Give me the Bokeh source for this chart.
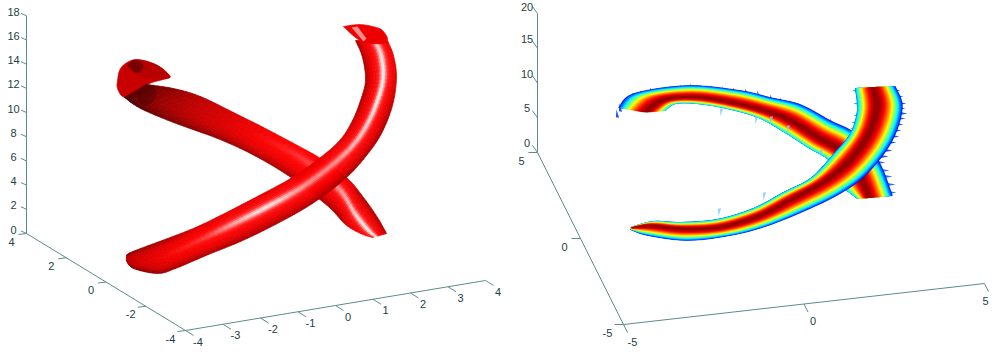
import math
from bokeh.plotting import figure
from bokeh.models import Range1d
from bokeh.core.properties import value
from bokeh.embed import file_html
from bokeh.resources import INLINE

# ---------- left panel axes ----------
L_Z_TICKS = [0, 2, 4, 6, 8, 10, 12, 14, 16, 18]
L_Y_TICKS = [4, 2, 0, -2, -4]
L_X_TICKS = [-4, -3, -2, -1, 0, 1, 2, 3, 4]
# ---------- right panel axes ----------
R_Z_TICKS = [0, 5, 10, 15, 20]
R_Y_TICKS = [5, 0, -5]
R_X_TICKS = [-5, 0, 5]

# ---------- red tubes: paired edges ----------
A_UP = [(126,256),(128,253),(140,248),(167,238),(195,227),(220,215),(253,198),(290,178),(320,157),(340,139),(352,120),(360,100),(365,80),(362,57),(355,40)]
A_LO = [(126,260),(133,268),(157,273),(175,268),(208,254),(240,241),(275,224),(312,203),(345,178),(366,155),(381,133),(392,105),(396,77),(393,55),(387,40)]
A_POS = [.5,.5,.5,.5,.45,.42,.42,.42,.42,.45,.48,.52,.58,.62,.62]
A_PEAK = [0,0,0,.05,.2,.55,.8,.55,.5,.65,.75,.85,.85,.8,.7]
A_DIM = [.22,.2,.12,.04,0,0,0,0,0,0,0,0,0,0,0]

B_UP = [(146,84),(173,88),(200,96),(233,112),(263,127),(297,145),(320,158),(347,178),(363,197),(377,217),(386,233)]
B_LO = [(124,97),(140,108),(173,122),(217,138),(250,153),(283,172),(308,190),(330,208),(345,224),(360,233),(372,237)]
B_POS = [.3,.35,.35,.35,.33,.3,.35,.42,.55,.68,.8]
B_PEAK = [0,0,0,0,.03,.15,.3,.55,.75,.85,.8]
B_DIM = [.6,.42,.25,.12,.03,0,0,0,0,0,0]

CAP_L_OUTER = [(117,80),(119,70),(125,63),(137,59),(157,65),(169,75),(166,78),(147,84),(142,95),(124,97),(117,88),(117,80)]
CAP_L_INNER = [(126,65),(132,60),(143,60),(157,65),(169,75),(166,78),(148,78),(135,73),(126,65)]
CAP_L_DEEP = [(127,65),(132,60),(140,61),(143,66),(139,72),(133,71),(127,65)]
CAP_L_NECK = [(136,92),(143,85),(152,85),(156,94),(150,103),(140,103),(136,92)]
CAP_R = [(343,26),(360,24),(376,27),(382,30),(387,38),(383,43),(365,42),(355,37),(343,26)]
CAP_R_INNER = [(351,27),(357,26),(366,38),(363,41)]

# ---------- rainbow bands ----------
RA_C = [(632,227),(650,225),(680,228),(717,227),(757,216),(790,199),(823,181),(847,162),(867,135),(876,107),(873,87)]
RA_U = [(630,227),(653,221),(680,222),(717,219),(753,208),(783,192),(810,178),(832,155),(850,133),(857,110),(855,88)]
RA_L = [(630,229),(647,235),(687,240),(730,235),(765,226),(803,211),(840,193),(868,172),(892,140),(902,107),(895,86)]

RB_C = [(645,112),(665,99),(697,97),(730,102),(763,110),(790,120),(817,137),(840,150),(857,170),(868,197)]
RB_U = [(618,107),(633,93),(687,85),(740,90),(770,97),(800,104),(830,120),(855,133),(878,160),(892,195)]
RB_L = [(665,110),(675,103),(697,103),(727,108),(758,117),(783,131),(808,147),(830,161),(842,185),(857,198)]

TEETH_R_X = [900,903,906,905,907,905,903,901,899,896,892,888]
TEETH_R_Y = [90,96,103,108,113,118,124,130,136,142,150,156]
TEETH_B_X = [885,889,892,895,896]
TEETH_B_Y = [162,170,176,184,192]
TEETH_L_X = [852,853,853,851,850]
TEETH_L_Y = [90,103,115,122,128]
TEETH_U_X = [616,619,623,627,632,640,650,660,670,680,690,700,711,722,733,745,757,770,780,790,798,806,814,822,830,838,846]
TEETH_U_Y = [109,103,99,96,92,90,87,87,85,84,83,84,85,86,87,88,90,94,97,100,102,107,110,116,118,125,128]
SPIKE_X = [720,755,770,787,820,763,718,800]
SPIKE_Y = [116,124,124,133,157,200,216,205]


def smooth(pts, n=6):
    out = []
    m = len(pts)
    for i in range(m - 1):
        p0 = pts[max(i - 1, 0)]
        p1, p2 = pts[i], pts[i + 1]
        p3 = pts[min(i + 2, m - 1)]
        for k in range(n):
            t = k / n
            out.append(tuple(
                0.5 * (2*p1[j] + (p2[j]-p0[j])*t + (2*p0[j]-5*p1[j]+4*p2[j]-p3[j])*t*t
                       + (3*p1[j]-p0[j]-3*p2[j]+p3[j])*t**3)
                for j in range(len(p1))))
    out.append(tuple(pts[-1]))
    return out


def hexc(r, g, b):
    c = lambda v: max(0, min(255, int(round(v))))
    return "#%02x%02x%02x" % (c(r), c(g), c(b))


def tube_colour(t, pos, peak, dim):
    d = abs(t - pos) / max(pos, 1 - pos)
    r = 255 * (1 - dim) * (1 - 0.36 * d ** 3)
    w = max(0.0, peak) * math.exp(-(d / 0.17) ** 2)
    w += 0.12 * max(0.0, peak) * math.exp(-(d / 0.4) ** 2)
    w = min(w, 1)
    return hexc(r + (255 - r) * w, 255 * w, 255 * w)


def draw_tube(p, up, lo, pos, peak, dim, bands=20):
    U = smooth(up); Lo = smooth(lo)
    P = smooth([(a, b, c) for a, b, c in zip(pos, peak, dim)])
    xs, ys, cs = [], [], []
    for i in range(len(U) - 1):
        for b in range(bands):
            t0, t1 = b / bands, (b + 1) / bands
            q = [(U[i], Lo[i], t0), (U[i], Lo[i], t1), (U[i+1], Lo[i+1], t1), (U[i+1], Lo[i+1], t0)]
            xs.append([u[0] + (l[0]-u[0])*t for u, l, t in q])
            ys.append([u[1] + (l[1]-u[1])*t for u, l, t in q])
            tm = (t0 + t1) / 2
            cs.append(tube_colour(tm, P[i][0], P[i][1], P[i][2]))
    p.patches(xs, ys, fill_color=cs, line_color=cs, line_width=0.7)


def jet(v):
    f = lambda x: max(0.0, min(1.0, x))
    r = f(min(4*v - 1.5, -4*v + 4.5))
    g = f(min(4*v - 0.5, -4*v + 3.5))
    b = f(min(4*v + 0.5, -4*v + 2.5))
    return hexc(255*r, 255*g, 255*b)


def draw_band(p, centre, up, lo, v_up, v_lo, levels=34):
    C = smooth(centre); U = smooth(up); Lo = smooth(lo)
    for k in range(levels):
        v = 0.14 + 0.84 * k / (levels - 1)
        fu = ((1 - v) / (1 - v_up)) ** 0.6 if v > v_up else 1.0
        fl = ((1 - v) / (1 - v_lo)) ** 0.6 if v > v_lo else 1.0
        top = [(c[0] + fu*(u[0]-c[0]), c[1] + fu*(u[1]-c[1])) for c, u in zip(C, U)]
        bot = [(c[0] + fl*(l[0]-c[0]), c[1] + fl*(l[1]-c[1])) for c, l in zip(C, Lo)]
        poly = top + bot[::-1]
        col = jet(v)
        p.patch([q[0] for q in poly], [q[1] for q in poly], fill_color=col, line_color=col, line_width=0.3)


def teeth(p, xs, ys, dx, dy, half, colour, alpha=1.0):
    X, Y = [], []
    n = abs(dx) + abs(dy)
    for x, y in zip(xs, ys):
        X.append([x, x + dx - half*dy/n, x + dx + half*dy/n])
        Y.append([y, y + dy - half*dx/n, y + dy + half*dx/n])
    p.patches(X, Y, fill_color=colour, fill_alpha=alpha, line_color=None)


def blob(p, pts, colour, alpha=1.0, edge=None):
    s = smooth(pts, 4)
    p.patch([q[0] for q in s], [q[1] for q in s], fill_color=colour, fill_alpha=alpha,
            line_color=edge, line_width=0.7)


p = figure(width=992, height=353, x_range=Range1d(0, 992), y_range=Range1d(353, 0),
           x_axis_type=None, y_axis_type=None, toolbar_location=None,
           output_backend="svg", min_border=0, outline_line_color=None,
           background_fill_color="white", border_fill_color="white")
p.grid.visible = False

AXC = "#5f8b8e"
TXT = "#223f44"


def lerp(a, b, t):
    return (a[0] + (b[0]-a[0])*t, a[1] + (b[1]-a[1])*t)


def axis(p, start, end, ticks, tick_d, lab_d, clamp=None):
    lo, hi = min(ticks), max(ticks)
    p.line([start[0], end[0]], [start[1], end[1]], line_color=AXC, line_width=1)
    xs0, ys0, xs1, ys1, tx, ty, lab = [], [], [], [], [], [], []
    for v in ticks:
        q = lerp(start, end, (v - lo) / (hi - lo))
        xs0.append(q[0]); ys0.append(q[1])
        xs1.append(q[0] + tick_d[0]); ys1.append(q[1] + tick_d[1])
        x, y = q[0] + lab_d[0], q[1] + lab_d[1]
        if clamp:
            x, y = clamp(x, y)
        tx.append(x); ty.append(y); lab.append(str(v))
    p.segment(xs0, ys0, xs1, ys1, line_color=AXC, line_width=1)
    p.text(tx, ty, text=lab, text_align="center", text_baseline="middle",
           text_font=value("Liberation Sans"), text_font_size="11px", text_color=TXT)


keep_in = lambda x, y: (min(x, 985), max(y, 6))

# left axes
axis(p, (26, 233), (26, 15.3), L_Z_TICKS, (-5.5, -2.5), (-13, -4), clamp=keep_in)
axis(p, (185, 330), (26, 233), L_Y_TICKS[::-1], (-8, 1), (-15, 8), clamp=keep_in)
axis(p, (185, 330), (485, 280), L_X_TICKS, (8, 5), (12.5, 11))
# right axes
axis(p, (537, 152), (537, 13), R_Z_TICKS, (-5, -7), (-10.5, -9.5), clamp=keep_in)
axis(p, (623, 324), (537, 152), R_Y_TICKS[::-1], (-9, 0), (-16, 8))
axis(p, (623, 324), (984, 283), R_X_TICKS, (4, 8), (9, 17), clamp=keep_in)

# rear tube and its curled end
blob(p, CAP_L_OUTER, "#c80000", edge="#c80000")
draw_tube(p, B_UP, B_LO, B_POS, B_PEAK, B_DIM)
blob(p, CAP_L_INNER, "#b80000", edge="#c00000")
blob(p, CAP_L_DEEP, "#4c0000", alpha=0.6)
blob(p, CAP_L_NECK, "#3c0000", alpha=0.35)
# front tube and its open end
draw_tube(p, A_UP, A_LO, A_POS, A_PEAK, A_DIM)
blob(p, CAP_R, "#ee0000", edge="#ee0000")
p.patch([q[0] for q in CAP_R_INNER], [q[1] for q in CAP_R_INNER], fill_color="#ff8a8a", line_color=None)

# rainbow bands
teeth(p, TEETH_U_X, TEETH_U_Y, 1, 8, 1.8, "#1e50ff")
teeth(p, TEETH_B_X, TEETH_B_Y, -9, 0, 1.8, "#2a70ff")
draw_band(p, RB_C, RB_U, RB_L, 0.14, 0.35)
teeth(p, SPIKE_X, SPIKE_Y, 1, -8, 1.8, "#7cc8ff", alpha=0.8)
teeth(p, TEETH_L_X, TEETH_L_Y, 6, 0, 2, "#30a0ff")
teeth(p, TEETH_R_X, TEETH_R_Y, -9, 0, 1.8, "#1e50ff")
draw_band(p, RA_C, RA_U, RA_L, 0.3, 0.14)

open("out.html", "w").write(file_html(p, INLINE))
